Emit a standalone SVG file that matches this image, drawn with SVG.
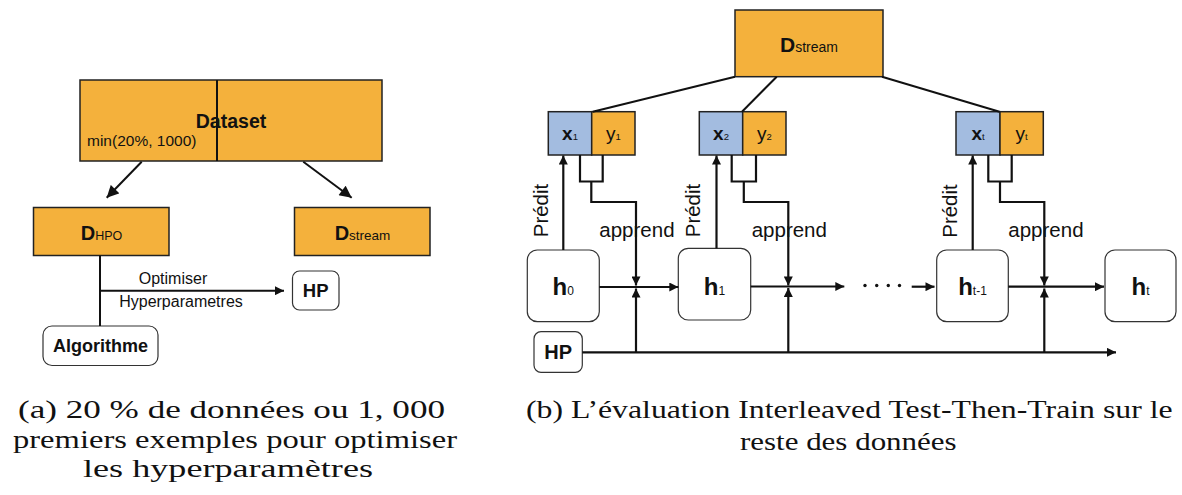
<svg xmlns="http://www.w3.org/2000/svg" width="1182" height="495" viewBox="0 0 1182 495">
  <style>
    .orange { fill: #F4B13C; stroke: #222; stroke-width: 1.5; }
    .blue { fill: #A3BCE0; stroke: #222; stroke-width: 1.5; }
    .round { fill: #fff; stroke: #333; stroke-width: 1.2; }
    .sans { font-family: "Liberation Sans", Arial, sans-serif; fill: #111; }
    .bold { font-weight: bold; }
    .cap { font-family: "Liberation Serif", "Times New Roman", serif; font-size: 26px; fill: #111; }
    .ln { stroke: #111; stroke-width: 2.2; fill: none; }
    .lnl { stroke: #111; stroke-width: 2; fill: none; }
  </style>
  <defs>
    <marker id="arr" viewBox="0 0 10 10" refX="10" refY="5" markerWidth="10" markerHeight="9" markerUnits="userSpaceOnUse" orient="auto">
      <path d="M0,0 L10,5 L0,10 z" fill="#111"/>
    </marker>
    <marker id="arrBig" viewBox="0 0 10 10" refX="10" refY="5" markerWidth="13" markerHeight="12" markerUnits="userSpaceOnUse" orient="auto">
      <path d="M0,0 L10,5 L0,10 z" fill="#111"/>
    </marker>
  </defs>
  <rect width="1182" height="495" fill="#fff"/>

  <!-- (a) split of the dataset -->
  <g id="dataset">
    <rect class="orange" x="80" y="80" width="302" height="81"/>
    <line x1="217" y1="80" x2="217" y2="161" stroke="#111" stroke-width="2"/>
    <text class="sans bold" x="231" y="128" font-size="19.5" text-anchor="middle">Dataset</text>
    <text class="sans" x="87" y="146" font-size="15.5">min(20%, 1000)</text>
  </g>
  <g id="d-hpo">
    <rect class="orange" x="33.5" y="207.5" width="135.5" height="48"/>
    <text class="sans" x="101.5" y="240" text-anchor="middle"><tspan class="bold" font-size="20">D</tspan><tspan font-size="12.5">HPO</tspan></text>
  </g>
  <g id="d-stream-a">
    <rect class="orange" x="294.5" y="207.5" width="135.5" height="48"/>
    <text class="sans" x="362.5" y="240" text-anchor="middle"><tspan class="bold" font-size="20">D</tspan><tspan font-size="13.5">stream</tspan></text>
  </g>
  <g id="hp-a">
    <rect class="round" x="292.5" y="271" width="46.5" height="39" rx="7"/>
    <text class="sans bold" x="315.7" y="297" font-size="18.5" text-anchor="middle">HP</text>
  </g>
  <g id="algorithme">
    <rect class="round" x="43" y="326" width="115" height="39.5" rx="9"/>
    <text class="sans bold" x="100.5" y="352" font-size="18" text-anchor="middle">Algorithme</text>
  </g>
  <g id="connectors-a">
    <line class="lnl" x1="141.7" y1="161.7" x2="106.7" y2="197.7" marker-end="url(#arrBig)"/>
    <line class="lnl" x1="303.3" y1="161.7" x2="351.7" y2="197.7" marker-end="url(#arrBig)"/>
    <line class="lnl" x1="100" y1="255.5" x2="100" y2="326"/>
    <line class="lnl" x1="100" y1="290.7" x2="284" y2="290.7" marker-end="url(#arr)"/>
    <text class="sans" x="173" y="284.3" font-size="16" text-anchor="middle">Optimiser</text>
    <text class="sans" x="181" y="306.7" font-size="16" text-anchor="middle">Hyperparametres</text>
  </g>

  <!-- (b) interleaved test-then-train -->
  <g id="d-stream-b">
    <rect class="orange" x="735" y="10" width="148" height="66.7"/>
    <text class="sans" x="809" y="52" text-anchor="middle"><tspan class="bold" font-size="21">D</tspan><tspan font-size="14">stream</tspan></text>
  </g>
  <g id="sample-1">
    <rect class="blue" x="548.3" y="111.7" width="43.4" height="43.3"/>
    <rect class="orange" x="591.7" y="111.7" width="43.3" height="43.3"/>
    <text class="sans" x="570" y="140" text-anchor="middle"><tspan class="bold" font-size="19">x</tspan><tspan font-size="9.5">1</tspan></text>
    <text class="sans" x="613.5" y="140" text-anchor="middle"><tspan font-size="19">y</tspan><tspan font-size="9.5">1</tspan></text>
  </g>
  <g id="sample-2">
    <rect class="blue" x="699.3" y="111.7" width="43.4" height="43.3"/>
    <rect class="orange" x="742.7" y="111.7" width="43.3" height="43.3"/>
    <text class="sans" x="721" y="140" text-anchor="middle"><tspan class="bold" font-size="19">x</tspan><tspan font-size="9.5">2</tspan></text>
    <text class="sans" x="764.5" y="140" text-anchor="middle"><tspan font-size="19">y</tspan><tspan font-size="9.5">2</tspan></text>
  </g>
  <g id="sample-t">
    <rect class="blue" x="956" y="111.7" width="44" height="43.3"/>
    <rect class="orange" x="1000" y="111.7" width="43.3" height="43.3"/>
    <text class="sans" x="978" y="140" text-anchor="middle"><tspan class="bold" font-size="19">x</tspan><tspan font-size="9.5">t</tspan></text>
    <text class="sans" x="1021.5" y="140" text-anchor="middle"><tspan font-size="19">y</tspan><tspan font-size="9.5">t</tspan></text>
  </g>
  <g id="h0">
    <rect class="round" x="527.3" y="250" width="72" height="71.7" rx="10"/>
    <text class="sans" x="563.3" y="295" text-anchor="middle"><tspan class="bold" font-size="24">h</tspan><tspan font-size="12">0</tspan></text>
  </g>
  <g id="h1">
    <rect class="round" x="678.3" y="248.3" width="72.4" height="71.7" rx="10"/>
    <text class="sans" x="714.5" y="295" text-anchor="middle"><tspan class="bold" font-size="24">h</tspan><tspan font-size="12">1</tspan></text>
  </g>
  <g id="h-t-1">
    <rect class="round" x="936.7" y="250" width="71.6" height="71.7" rx="10"/>
    <text class="sans" x="972.5" y="295" text-anchor="middle"><tspan class="bold" font-size="24">h</tspan><tspan font-size="12">t-1</tspan></text>
  </g>
  <g id="h-t">
    <rect class="round" x="1105" y="250" width="71" height="71.7" rx="10"/>
    <text class="sans" x="1140.5" y="295" text-anchor="middle"><tspan class="bold" font-size="24">h</tspan><tspan font-size="12">t</tspan></text>
  </g>
  <g id="hp-b">
    <rect class="round" x="534" y="331.7" width="48.3" height="40.6" rx="7"/>
    <text class="sans bold" x="558.2" y="359" font-size="20" text-anchor="middle">HP</text>
  </g>

  <g id="connectors-b">
    <!-- stream feeding the samples -->
    <line class="lnl" x1="735" y1="76.7" x2="592.7" y2="111.7"/>
    <line class="lnl" x1="776.7" y1="76.7" x2="742" y2="111.7"/>
    <line class="lnl" x1="882" y1="76.7" x2="999.5" y2="111.7"/>

    <!-- predict arrows -->
    <line class="ln" x1="563.3" y1="250" x2="563.3" y2="155.5" marker-end="url(#arr)"/>
    <line class="ln" x1="716.5" y1="248.3" x2="716.5" y2="155.5" marker-end="url(#arr)"/>
    <line class="ln" x1="972.7" y1="250" x2="972.7" y2="155.5" marker-end="url(#arr)"/>
    <text class="sans" transform="translate(548,210.5) rotate(-90)" font-size="20.5" text-anchor="middle">Prédit</text>
    <text class="sans" transform="translate(700,210.5) rotate(-90)" font-size="20.5" text-anchor="middle">Prédit</text>
    <text class="sans" transform="translate(957,211) rotate(-90)" font-size="20.5" text-anchor="middle">Prédit</text>

    <!-- learn paths -->
    <path class="ln" d="M580,155 V181.5 H602.7 V155 M591.3,181.5 V202 H636 V285.5" marker-end="url(#arr)"/>
    <path class="ln" d="M731.7,155 V181.5 H756 V155 M743.8,181.5 V202 H788.3 V285.5" marker-end="url(#arr)"/>
    <path class="ln" d="M988.3,155 V181.5 H1011.7 V155 M1000,181.5 V202 H1044.3 V285.5" marker-end="url(#arr)"/>
    <text class="sans" x="599.3" y="237.3" font-size="20.5">apprend</text>
    <text class="sans" x="751.7" y="237.3" font-size="20.5">apprend</text>
    <text class="sans" x="1008.3" y="237.3" font-size="20.5">apprend</text>

    <!-- state transitions -->
    <line class="ln" x1="599.3" y1="287" x2="678.3" y2="287" marker-end="url(#arr)"/>
    <line class="ln" x1="750.7" y1="286.5" x2="844.3" y2="286.5" marker-end="url(#arr)"/>
    <line class="ln" x1="911.7" y1="286.7" x2="934.5" y2="286.7" marker-end="url(#arr)"/>
    <line class="ln" x1="1008.3" y1="286.7" x2="1104" y2="286.7" marker-end="url(#arr)"/>
    <g fill="#111">
      <circle cx="865" cy="285.5" r="1.7"/>
      <circle cx="876.7" cy="285.5" r="1.7"/>
      <circle cx="888.3" cy="285.5" r="1.7"/>
      <circle cx="899.5" cy="285.5" r="1.7"/>
    </g>

    <!-- hyperparameters bus -->
    <line class="ln" x1="582.3" y1="352.3" x2="1116" y2="352.3" marker-end="url(#arr)"/>
    <line class="ln" x1="636" y1="352.3" x2="636" y2="288.5" marker-end="url(#arr)"/>
    <line class="ln" x1="788.3" y1="352.3" x2="788.3" y2="288" marker-end="url(#arr)"/>
    <line class="ln" x1="1044.3" y1="352.3" x2="1044.3" y2="288.5" marker-end="url(#arr)"/>
  </g>

  <!-- captions -->
  <g id="captions">
    <text class="cap" x="231.5" y="418.3" text-anchor="middle" textLength="427" lengthAdjust="spacingAndGlyphs">(a) 20 % de données ou 1, 000</text>
    <text class="cap" x="235" y="448.3" text-anchor="middle" textLength="444" lengthAdjust="spacingAndGlyphs">premiers exemples pour optimiser</text>
    <text class="cap" x="228" y="477" text-anchor="middle" textLength="290" lengthAdjust="spacingAndGlyphs">les hyperparamètres</text>
    <text class="cap" x="849.3" y="417.7" text-anchor="middle" textLength="646.7" lengthAdjust="spacingAndGlyphs">(b) L’évaluation Interleaved Test-Then-Train sur le</text>
    <text class="cap" x="848.3" y="450" text-anchor="middle" textLength="216.7" lengthAdjust="spacingAndGlyphs">reste des données</text>
  </g>
</svg>
